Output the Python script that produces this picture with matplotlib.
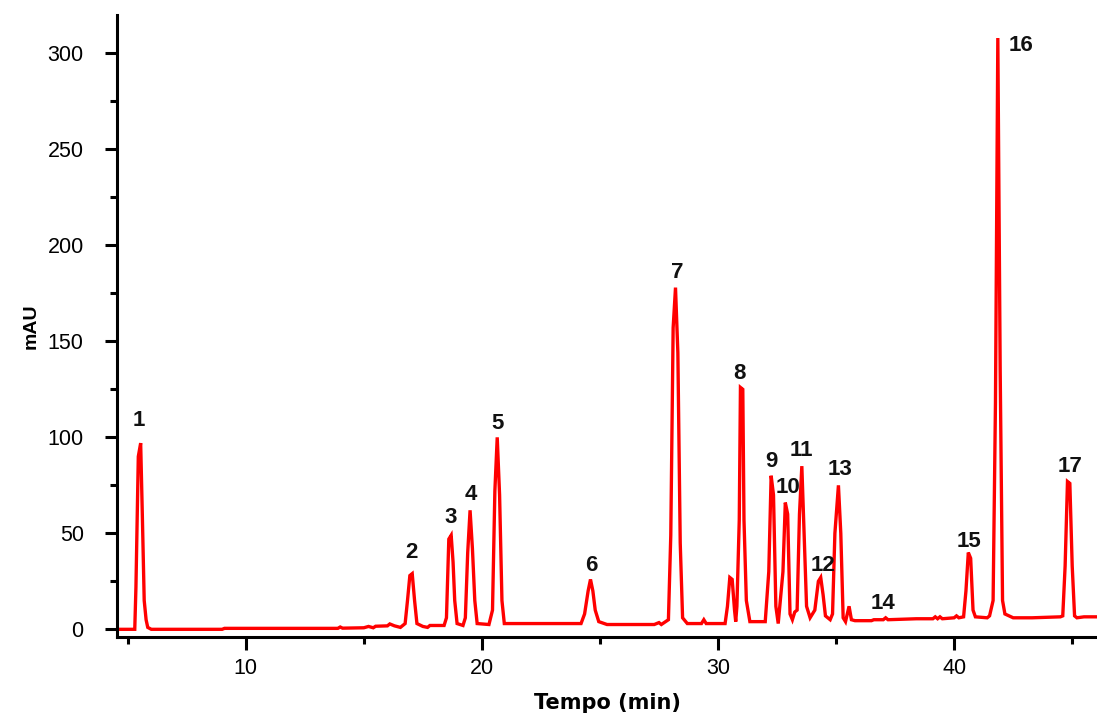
import matplotlib.pyplot as plt
from matplotlib.ticker import MultipleLocator

plt.rcParams['font.family'] = ['Liberation Sans', 'DejaVu Sans']

# chromatogram trace: retention time (min) and absorbance (mAU)
tempo = [
    4.55, 5.0, 5.3, 5.35, 5.45, 5.55, 5.62, 5.7, 5.78, 5.85, 6.0, 9.0, 9.1, 13.9, 14.0, 14.1,
    15.0, 15.2, 15.4, 15.5, 16.0, 16.1, 16.3, 16.55, 16.75, 16.85, 16.95, 17.05, 17.15, 17.25,
    17.5, 17.7, 17.8, 18.4, 18.5, 18.6, 18.7, 18.78, 18.85, 18.95, 19.2, 19.3, 19.4, 19.5,
    19.6, 19.7, 19.8, 20.3, 20.45, 20.55, 20.65, 20.75, 20.85, 20.95, 21.5, 24.2, 24.35, 24.5,
    24.6, 24.7, 24.8, 24.95, 25.3, 27.3, 27.5, 27.6, 27.9, 28.0, 28.1, 28.2, 28.3, 28.4, 28.5,
    28.7, 29.3, 29.4, 29.5, 30.3, 30.4, 30.5, 30.6, 30.7, 30.75, 30.8, 30.9, 30.95, 31.05,
    31.1, 31.2, 31.35, 32.0, 32.15, 32.25, 32.35, 32.45, 32.55, 32.75, 32.85, 32.95, 33.05,
    33.15, 33.25, 33.35, 33.45, 33.55, 33.65, 33.75, 33.9, 34.1, 34.25, 34.35, 34.45, 34.55,
    34.75, 34.85, 34.95, 35.1, 35.2, 35.3, 35.4, 35.55, 35.65, 35.8, 36.5, 36.6, 37.0, 37.1,
    37.2, 38.4, 39.1, 39.2, 39.3, 39.4, 39.5, 40.0, 40.1, 40.2, 40.4, 40.5, 40.6, 40.7, 40.8,
    40.9, 41.4, 41.5, 41.65, 41.75, 41.85, 41.95, 42.05, 42.15, 42.5, 43.3, 44.5, 44.6, 44.7,
    44.8, 44.9, 45.0, 45.1, 45.2, 45.5, 46.2,
]
mau = [
    0, 0, 0, 22, 90, 97, 60, 15, 5, 1, 0, 0, 0.5, 0.5, 1.2, 0.6,
    0.8, 1.5, 0.8, 1.6, 1.8, 2.8, 1.8, 1.0, 3, 15, 28, 29, 15, 3,
    1.5, 1.0, 2, 2, 6, 47, 49, 35, 15, 3, 2, 6, 40, 62,
    42, 15, 3, 2.5, 10, 72, 100, 70, 15, 3, 3, 3, 8, 20,
    26, 20, 10, 4, 2.5, 2.5, 3.5, 2.5, 5, 49, 157, 178, 144, 45, 6,
    3, 3, 5, 3, 3, 12, 27, 26, 10, 4, 12, 57, 126, 125,
    57, 15, 4, 4, 30, 80, 70, 12, 3, 30, 66, 60, 8,
    5, 9, 10, 60, 85, 48, 12, 6, 10, 25, 27, 18, 7,
    5, 8, 50, 75, 50, 6, 4, 12, 5, 4.5, 4.5, 5, 5, 6,
    5, 5.5, 5.5, 6.5, 5.5, 6.5, 5.5, 6, 7, 6, 6.5, 20, 40, 37, 10,
    6.5, 6, 7, 15, 118, 308, 135, 15, 8, 6, 6, 6.5, 7, 33,
    77, 76, 33, 7, 6, 6.5, 6.5,
]

# peak numbers and where they sit
pico_nome = [str(i) for i in range(1, 18)]
pico_x = [5.47, 17.0, 18.66, 19.55, 20.65, 24.62, 28.26, 30.92, 32.27, 32.95,
          33.54, 34.43, 35.15, 36.97, 40.65, 42.3, 44.92]
pico_y = [109, 40, 58, 70, 107, 33, 186, 133, 87.5, 74,
          93, 33, 83, 13.5, 46, 304, 85]

fig = plt.figure(figsize=(10.97, 7.13), dpi=100)
ax = fig.add_axes([0.1067, 0.1066, 0.8933, 0.8724])

ax.plot(tempo, mau, color='#ff0000', lw=2.4, solid_joinstyle='miter')

for nome, x, y in zip(pico_nome, pico_x, pico_y):
    ha = 'left' if nome == '16' else 'center'
    ax.text(x, y, nome, ha=ha, va='center', fontsize=16, fontweight='bold', color='#111111')

ax.set_xlim(4.55, 46.05)
ax.set_ylim(-4, 320)
ax.xaxis.set_major_locator(MultipleLocator(10))
ax.xaxis.set_minor_locator(MultipleLocator(5))
ax.yaxis.set_major_locator(MultipleLocator(50))
ax.yaxis.set_minor_locator(MultipleLocator(25))

for side in ['top', 'right']:
    ax.spines[side].set_visible(False)
for side in ['left', 'bottom']:
    ax.spines[side].set_linewidth(2.2)

ax.tick_params(which='major', direction='out', length=9, width=2.2, labelsize=15.5)
ax.tick_params(axis='y', which='major', pad=15)
ax.tick_params(axis='x', which='major', pad=6)
ax.tick_params(which='minor', direction='out', length=5, width=2.2)

ax.set_xlabel('Tempo (min)', fontsize=15, fontweight='bold', labelpad=10,
              family=['DejaVu Sans'])
ax.set_ylabel('mAU', fontsize=14, fontweight='bold', labelpad=6)

fig.savefig('out.png', dpi=100)
